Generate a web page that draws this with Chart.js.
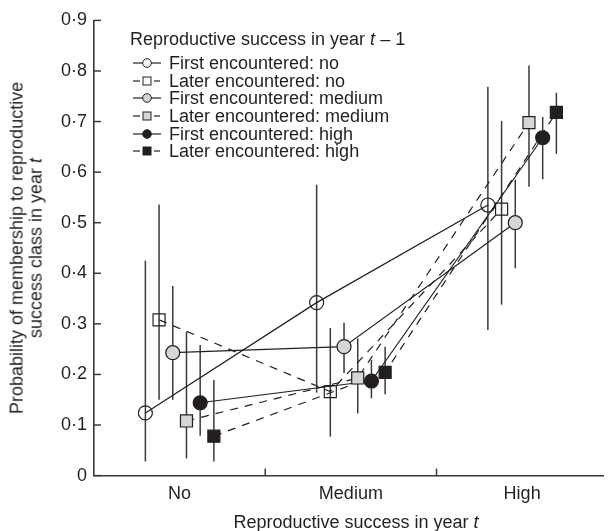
<!DOCTYPE html>
<html>
<head>
<meta charset="utf-8">
<script src="https://cdn.jsdelivr.net/npm/chart.js@4.4.1/dist/chart.umd.min.js"></script>
<style>
  body { margin: 0; background: #fff; }
  #wrap { position: relative; width: 613px; height: 531px; font-family: "Liberation Sans", Arial, sans-serif; color: #231f20; }
  #chart { position: absolute; left: 0; top: 0; }
  .ytitle { position: absolute; left: 27px; top: 248px; transform: translate(-50%, -50%) rotate(-90deg); text-align: center; font-size: 18px; line-height: 19.4px; white-space: nowrap; }
  .xtitle { position: absolute; left: 356px; top: 522px; transform: translate(-50%, -50%); font-size: 18px; white-space: nowrap; }
  .leg { position: absolute; font-size: 18px; line-height: 18px; white-space: nowrap; }
  .leg svg { position: absolute; left: 0; top: 3px; }
  .leg span { position: absolute; left: 36px; top: 0; }
</style>
</head>
<body>
<div id="wrap">
  <canvas id="chart" width="613" height="531"></canvas>
  <div class="ytitle">Probability of membership to reproductive<br>success class in year <i>t</i></div>
  <div class="xtitle">Reproductive success in year <i>t</i></div>
  <div class="leg" style="left:130px; top:30px;">Reproductive success in year <i>t</i> – 1</div>
  <div id="legend"></div>
</div>
<script>
// categories on the x axis
const categories = ['No', 'Medium', 'High'];
const yTickLabels = ['0', '0·1', '0·2', '0·3', '0·4', '0·5', '0·6', '0·7', '0·8', '0·9'];

const seriesLabels = [
  'First encountered: no',
  'Later encountered: no',
  'First encountered: medium',
  'Later encountered: medium',
  'First encountered: high',
  'Later encountered: high'
];

// horizontal dodge of each series inside a category
const xOffsets = [-0.2, -0.12, -0.04, 0.04, 0.12, 0.2];

// means and error bar ends (No, Medium, High)
const firstNoMean = [0.124, 0.342, 0.535];
const firstNoLow = [0.028, 0.164, 0.288];
const firstNoHigh = [0.425, 0.575, 0.769];

const laterNoMean = [0.308, 0.166, 0.527];
const laterNoLow = [0.150, 0.077, 0.338];
const laterNoHigh = [0.536, 0.292, 0.701];

const firstMedMean = [0.243, 0.255, 0.500];
const firstMedLow = [0.150, 0.203, 0.410];
const firstMedHigh = [0.375, 0.302, 0.585];

const laterMedMean = [0.108, 0.193, 0.698];
const laterMedLow = [0.034, 0.123, 0.571];
const laterMedHigh = [0.284, 0.271, 0.811];

const firstHighMean = [0.144, 0.187, 0.668];
const firstHighLow = [0.079, 0.153, 0.586];
const firstHighHigh = [0.258, 0.229, 0.709];

const laterHighMean = [0.078, 0.204, 0.718];
const laterHighLow = [0.028, 0.161, 0.636];
const laterHighHigh = [0.189, 0.255, 0.757];

const means = [firstNoMean, laterNoMean, firstMedMean, laterMedMean, firstHighMean, laterHighMean];
const lows = [firstNoLow, laterNoLow, firstMedLow, laterMedLow, firstHighLow, laterHighLow];
const highs = [firstNoHigh, laterNoHigh, firstMedHigh, laterMedHigh, firstHighHigh, laterHighHigh];

const ink = '#231f20';
const grey = '#d6d6d6';
const shapes = ['circle', 'rect', 'circle', 'rect', 'circle', 'rect'];
const fills = ['rgba(255,255,255,0)', 'rgba(255,255,255,0)', grey, grey, ink, ink];
const dashed = [false, true, false, true, false, true];

const datasets = seriesLabels.map((label, s) => ({
  label: label,
  data: means[s].map((v, c) => ({ x: c + xOffsets[s], y: v })),
  lows: lows[s],
  highs: highs[s],
  showLine: true,
  borderColor: ink,
  borderWidth: 1.2,
  borderDash: dashed[s] ? [8, 7] : [],
  pointStyle: shapes[s],
  pointRadius: shapes[s] === 'rect' ? 8.5 : 7,
  pointBackgroundColor: fills[s],
  pointBorderColor: ink,
  pointBorderWidth: 1.2
}));

// vertical error bars, drawn under the markers
const errorBars = {
  id: 'errorBars',
  beforeDatasetsDraw(chart) {
    const ctx = chart.ctx;
    const y = chart.scales.y;
    ctx.save();
    ctx.strokeStyle = '#3a3a3a';
    ctx.lineWidth = 1.5;
    chart.data.datasets.forEach((ds, i) => {
      const meta = chart.getDatasetMeta(i);
      meta.data.forEach((pt, j) => {
        ctx.beginPath();
        ctx.moveTo(pt.x, y.getPixelForValue(ds.lows[j]));
        ctx.lineTo(pt.x, y.getPixelForValue(ds.highs[j]));
        ctx.stroke();
      });
    });
    ctx.restore();
  }
};

// tick marks pointing into the plot
const innerTicks = {
  id: 'innerTicks',
  afterDraw(chart) {
    const ctx = chart.ctx;
    const { x, y } = chart.scales;
    const area = chart.chartArea;
    ctx.save();
    ctx.strokeStyle = '#3a3a3a';
    ctx.lineWidth = 1.5;
    y.ticks.forEach(t => {
      const py = y.getPixelForValue(t.value);
      ctx.beginPath();
      ctx.moveTo(area.left, py);
      ctx.lineTo(area.left + 7, py);
      ctx.stroke();
    });
    for (let i = 0; i < categories.length - 1; i++) {
      const px = x.getPixelForValue(i + 0.5);
      ctx.beginPath();
      ctx.moveTo(px, area.bottom);
      ctx.lineTo(px, area.bottom - 7);
      ctx.stroke();
    }
    ctx.restore();
  }
};

new Chart(document.getElementById('chart'), {
  type: 'scatter',
  data: { datasets: datasets },
  options: {
    responsive: false,
    animation: false,
    layout: { padding: { top: 20.4, left: 0, right: 0, bottom: 0 } },
    plugins: { legend: { display: false }, tooltip: { enabled: false } },
    scales: {
      x: {
        type: 'linear',
        min: -0.5,
        max: 2.474,
        afterBuildTicks: scale => { scale.ticks = categories.map((c, i) => ({ value: i })); },
        afterFit: scale => { scale.height = 55.4; },
        ticks: {
          callback: v => categories[v],
          autoSkip: false,
          maxRotation: 0,
          padding: 8,
          color: ink,
          font: { family: '"Liberation Sans", Arial, sans-serif', size: 18 }
        },
        grid: { display: false, drawTicks: false },
        border: { display: true, color: '#3a3a3a', width: 1.6 }
      },
      y: {
        min: 0,
        max: 0.9,
        afterFit: scale => { scale.width = 94; },
        ticks: {
          stepSize: 0.1,
          callback: (v, i) => yTickLabels[i],
          padding: 7,
          color: ink,
          font: { family: '"Liberation Sans", Arial, sans-serif', size: 18 }
        },
        grid: { display: false, drawTicks: false },
        border: { display: true, color: '#3a3a3a', width: 1.6 }
      }
    }
  },
  plugins: [errorBars, innerTicks]
});

// legend rows with small line+marker symbols
const legendTop = [63, 80.6, 98.2, 115.9, 133.5, 151.1];
const legend = document.getElementById('legend');
seriesLabels.forEach((label, s) => {
  const row = document.createElement('div');
  row.className = 'leg';
  row.style.left = '133px';
  row.style.top = (legendTop[s] - 9) + 'px';
  const fill = fills[s].startsWith('rgba') ? '#fff' : fills[s];
  const mark = shapes[s] === 'circle'
    ? `<circle cx="14" cy="6" r="4.3" fill="${fill}" stroke="${ink}" stroke-width="1"/>`
    : `<rect x="10" y="2" width="8" height="8" fill="${fill}" stroke="${ink}" stroke-width="1"/>`;
  const line = dashed[s]
    ? `<line x1="0" y1="6" x2="7" y2="6" stroke="${ink}" stroke-width="1.2"/><line x1="21" y1="6" x2="27" y2="6" stroke="${ink}" stroke-width="1.2"/>`
    : `<line x1="0" y1="6" x2="28" y2="6" stroke="${ink}" stroke-width="1.2"/>`;
  row.innerHTML = `<svg width="28" height="12">${line}${mark}</svg><span>${label}</span>`;
  legend.appendChild(row);
});
</script>
</body>
</html>
